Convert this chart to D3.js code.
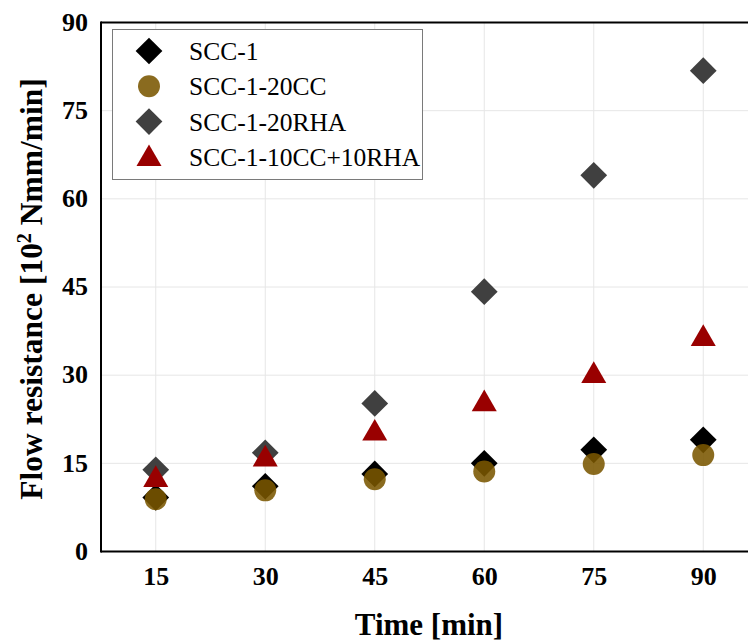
<!DOCTYPE html>
<html>
<head>
<meta charset="utf-8">
<script src="https://cdn.jsdelivr.net/npm/d3@7"></script>
<style>
  body { margin: 0; background: #fff; }
  svg { display: block; font-family: "Palatino Linotype", "Book Antiqua", Palatino, "Liberation Serif", serif; }
</style>
</head>
<body>
<div id="chart"></div>
<script>
// values
var times = [15, 30, 45, 60, 75, 90];
var scc1 = [9.2, 11.1, 13.2, 15.0, 17.3, 19.0];
var scc1cc = [8.9, 10.4, 12.3, 13.6, 14.9, 16.4];
var scc1rha = [13.9, 16.8, 25.2, 44.2, 64.0, 81.8];
var scc1mix = [12.2, 15.7, 20.1, 25.1, 29.9, 36.2];
var xTicks = [15, 30, 45, 60, 75, 90];
var yTicks = [0, 15, 30, 45, 60, 75, 90];

var series = [
    {name: 'SCC-1', values: scc1, shape: 'diamond', color: '#000000', opacity: 1},
    {name: 'SCC-1-20RHA', values: scc1rha, shape: 'diamond', color: '#404040', opacity: 1},
    {name: 'SCC-1-20CC', values: scc1cc, shape: 'circle', color: '#7a5600', opacity: 0.88},
    {name: 'SCC-1-10CC+10RHA', values: scc1mix, shape: 'triangle', color: '#990000', opacity: 1}
];
var legendOrder = ['SCC-1', 'SCC-1-20CC', 'SCC-1-20RHA', 'SCC-1-10CC+10RHA'];

var W = 748, H = 643;
var x = d3.scaleLinear().domain([7.5, 97.5]).range([101, 758]);
var y = d3.scaleLinear().domain([0, 90]).range([551.5, 22.5]);

var svg = d3.select('#chart').append('svg')
    .attr('width', W).attr('height', H);

function symbolPath(shape){
    if(shape === 'diamond') return d3.symbol().type(d3.symbolSquare).size(357)();
    if(shape === 'circle') return d3.symbol().type(d3.symbolCircle).size(380)();
    return d3.symbol().type(d3.symbolTriangle).size(271)();
}
function symbolRotate(shape){
    return shape === 'diamond' ? ' rotate(45)' : '';
}

// grid
svg.append('g').selectAll('line.vg')
    .data(xTicks).enter().append('line')
    .attr('x1', function(d){return x(d);}).attr('x2', function(d){return x(d);})
    .attr('y1', y(90)).attr('y2', y(0))
    .attr('stroke', '#e6e6e6').attr('stroke-width', 1);
svg.append('g').selectAll('line.hg')
    .data(yTicks.slice(1, -1)).enter().append('line')
    .attr('x1', x.range()[0]).attr('x2', W)
    .attr('y1', function(d){return y(d);}).attr('y2', function(d){return y(d);})
    .attr('stroke', '#e6e6e6').attr('stroke-width', 1);

// frame
svg.append('line').attr('x1', 101).attr('x2', W).attr('y1', y(90)).attr('y2', y(90))
    .attr('stroke', '#000').attr('stroke-width', 2);
svg.append('line').attr('x1', 101).attr('x2', W).attr('y1', y(0)).attr('y2', y(0))
    .attr('stroke', '#000').attr('stroke-width', 2);
svg.append('line').attr('x1', 101).attr('x2', 101).attr('y1', y(90) - 1).attr('y2', y(0) + 1)
    .attr('stroke', '#000').attr('stroke-width', 2);

// axes
var xAxis = svg.append('g')
    .attr('transform', 'translate(0,' + y(0) + ')')
    .call(d3.axisBottom(x).tickValues(xTicks).tickSize(0).tickPadding(15));
var yAxis = svg.append('g')
    .attr('transform', 'translate(101,0)')
    .call(d3.axisLeft(y).tickValues(yTicks).tickSize(0).tickPadding(13));
[xAxis, yAxis].forEach(function(a){
    a.select('.domain').remove();
    a.selectAll('text')
        .attr('font-family', '"Palatino Linotype", "Book Antiqua", Palatino, "Liberation Serif", serif')
        .attr('font-size', 26).attr('font-weight', 'bold').attr('fill', '#000');
});
yAxis.selectAll('text').attr('dy', '0.3em');

// points
series.forEach(function(s){
    svg.append('g').selectAll('path')
        .data(s.values).enter().append('path')
        .attr('d', symbolPath(s.shape))
        .attr('transform', function(d, i){
            return 'translate(' + x(times[i]) + ',' + y(d) + ')' + symbolRotate(s.shape);
        })
        .attr('fill', s.color)
        .attr('fill-opacity', s.opacity);
});

// axis titles
svg.append('text')
    .attr('x', 429).attr('y', 635)
    .attr('text-anchor', 'middle')
    .attr('font-size', 31).attr('font-weight', 'bold')
    .text('Time [min]');

var yt = svg.append('text')
    .attr('transform', 'translate(42,289) rotate(-90)')
    .attr('text-anchor', 'middle')
    .attr('font-size', 31.5).attr('font-weight', 'bold');
yt.append('tspan').text('Flow resistance [10');
yt.append('tspan').attr('dy', -11).attr('font-size', 20).text('2');
yt.append('tspan').attr('dy', 11).text(' Nmm/min]');

// legend
var legend = svg.append('g');
legend.append('rect')
    .attr('x', 112.5).attr('y', 29.5).attr('width', 310).attr('height', 150)
    .attr('fill', '#fff').attr('stroke', '#7a7a7a').attr('stroke-width', 1);
var rows = legend.selectAll('g.row')
    .data(legendOrder).enter().append('g')
    .attr('transform', function(d, i){return 'translate(149,' + (51 + i * 35.3) + ')';});
rows.append('path')
    .attr('d', function(d){
        var s = series.filter(function(k){return k.name === d;})[0];
        return symbolPath(s.shape);
    })
    .attr('transform', function(d){
        var s = series.filter(function(k){return k.name === d;})[0];
        return s.shape === 'triangle' ? 'translate(0,2)' : symbolRotate(s.shape).trim();
    })
    .attr('fill', function(d){return series.filter(function(k){return k.name === d;})[0].color;})
    .attr('fill-opacity', function(d){return series.filter(function(k){return k.name === d;})[0].opacity;});
rows.append('text')
    .attr('x', 40).attr('dy', '0.35em')
    .attr('font-size', 25.5).attr('fill', '#000')
    .text(function(d){return d;});
</script>
</body>
</html>
